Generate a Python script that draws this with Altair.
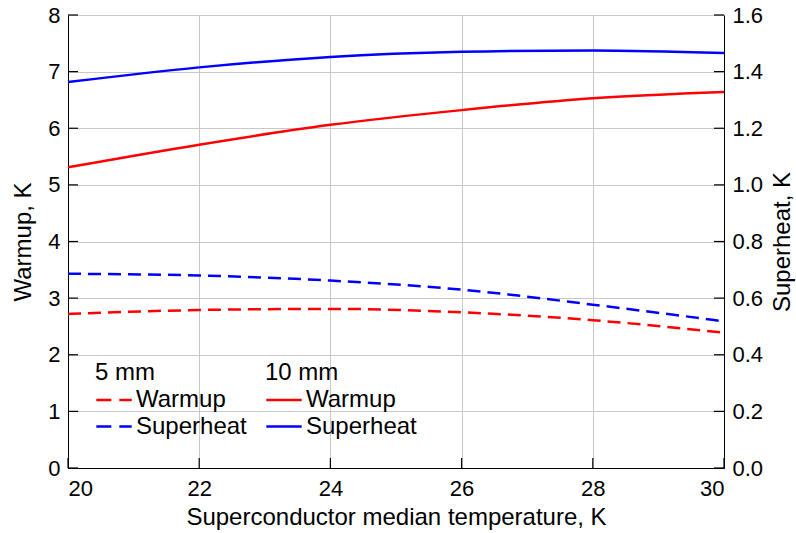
import altair as alt
import pandas as pd

# ---- data ----
temps = [20, 22, 24, 26, 28, 30]
warmup_5mm = [2.72, 2.79, 2.81, 2.75, 2.61, 2.39]
superheat_5mm = [0.686, 0.680, 0.662, 0.630, 0.577, 0.518]
warmup_10mm = [5.31, 5.71, 6.06, 6.32, 6.53, 6.64]
superheat_10mm = [1.363, 1.415, 1.452, 1.470, 1.475, 1.466]

x_ticks = [20, 22, 24, 26, 28, 30]
left_ticks = [0, 1, 2, 3, 4, 5, 6, 7, 8]
right_ticks = [0.0, 0.2, 0.4, 0.6, 0.8, 1.0, 1.2, 1.4, 1.6]

series_5mm = ["Warmup (5 mm)", "Superheat (5 mm)"]
series_10mm = ["Warmup (10 mm)", "Superheat (10 mm)"]
series_colors = ["#ff0000", "#0000ff"]

W, H = 656, 453
FONT = "Liberation Sans"

def frame(vals, name):
    return pd.DataFrame({"T": temps, "value": vals, "series": name})

df_w5 = frame(warmup_5mm, series_5mm[0])
df_s5 = frame(superheat_5mm, series_5mm[1])
df_w10 = frame(warmup_10mm, series_10mm[0])
df_s10 = frame(superheat_10mm, series_10mm[1])

x_enc = alt.X(
    "T:Q",
    scale=alt.Scale(domain=[20, 30], nice=False, zero=False),
    axis=alt.Axis(title="Superconductor median temperature, K", values=x_ticks,
                  grid=True, labelPadding=10, titlePadding=6, format="d"),
)
y_left = alt.Y(
    "value:Q",
    scale=alt.Scale(domain=[0, 8], nice=False),
    axis=alt.Axis(title="Warmup, K", values=left_ticks, grid=True, orient="left",
                  labelPadding=8, titlePadding=12, format="d"),
)
y_right = alt.Y(
    "value:Q",
    scale=alt.Scale(domain=[0, 1.6], nice=False),
    axis=alt.Axis(title="Superheat, K", values=right_ticks, grid=False, orient="right",
                  labelPadding=8, titlePadding=8, format=".1f",
                  titleAngle=270, titleBaseline="top"),
)

legend_common = dict(
    orient="none", symbolType="stroke", symbolSize=1250, symbolStrokeWidth=2.5,
    labelFontSize=24, titleFontSize=24, titleFontWeight="normal", labelOffset=3,
    clipHeight=24, rowPadding=2.5, titlePadding=3, padding=0,
    labelColor="black", titleColor="black",
    labelFont=FONT, titleFont=FONT, legendY=346,
    labelExpr="split(datum.label, ' (')[0]",
)

color_5 = alt.Color("series:N", scale=alt.Scale(domain=series_5mm, range=series_colors),
                    legend=alt.Legend(title="5 mm", legendX=27, symbolDash=[15, 8], **legend_common))
stroke_10 = alt.Stroke("series:N", scale=alt.Scale(domain=series_10mm, range=series_colors),
                       legend=alt.Legend(title="10 mm", legendX=197, **legend_common))

dash = [13, 7]
lw = 2.5

l_w5 = alt.Chart(df_w5).mark_line(strokeWidth=lw, strokeDash=dash, interpolate="monotone").encode(
    x=x_enc, y=y_left, color=color_5)
l_w10 = alt.Chart(df_w10).mark_line(strokeWidth=lw, interpolate="monotone").encode(
    x=x_enc, y=y_left, stroke=stroke_10)

TICK = "black"
ticks_left = alt.Chart(pd.DataFrame({"value": left_ticks})).mark_rule(color=TICK, strokeWidth=1.2).encode(
    y=y_left, x=alt.value(0), x2=alt.value(10))
ticks_bottom = alt.Chart(pd.DataFrame({"T": x_ticks})).mark_rule(color=TICK, strokeWidth=1.2).encode(
    x=x_enc, y=alt.value(H - 10), y2=alt.value(H))

l_s5 = alt.Chart(df_s5).mark_line(strokeWidth=lw, strokeDash=dash, interpolate="monotone").encode(
    x=x_enc, y=y_right, color=color_5)
l_s10 = alt.Chart(df_s10).mark_line(strokeWidth=lw, interpolate="monotone").encode(
    x=x_enc, y=y_right, stroke=stroke_10)
ticks_right = alt.Chart(pd.DataFrame({"value": right_ticks})).mark_rule(color=TICK, strokeWidth=1.2).encode(
    y=y_right, x=alt.value(W - 10), x2=alt.value(W))

left_group = alt.layer(l_w5, l_w10, ticks_left, ticks_bottom)
right_group = alt.layer(l_s5, l_s10, ticks_right)

chart = (
    alt.layer(left_group, right_group)
    .resolve_scale(y="independent", color="shared", stroke="shared")
    .properties(width=W, height=H, autosize=alt.AutoSizeParams(type="none"),
                padding={"left": 68, "top": 15, "right": 72, "bottom": 65})
    .configure(font=FONT, background="white")
    .configure_axis(domainColor="black", domainWidth=1, ticks=False, tickSize=0,
                    labelFontSize=22, titleFontSize=24, titleFontWeight="normal",
                    labelColor="black", titleColor="black", gridColor="#c8c8c8", gridWidth=1,
                    labelFont=FONT, titleFont=FONT)
    .configure_view(stroke="#c8c8c8", strokeWidth=1)
)

chart.save("out.html", embed_options={"renderer": "svg", "actions": False})
